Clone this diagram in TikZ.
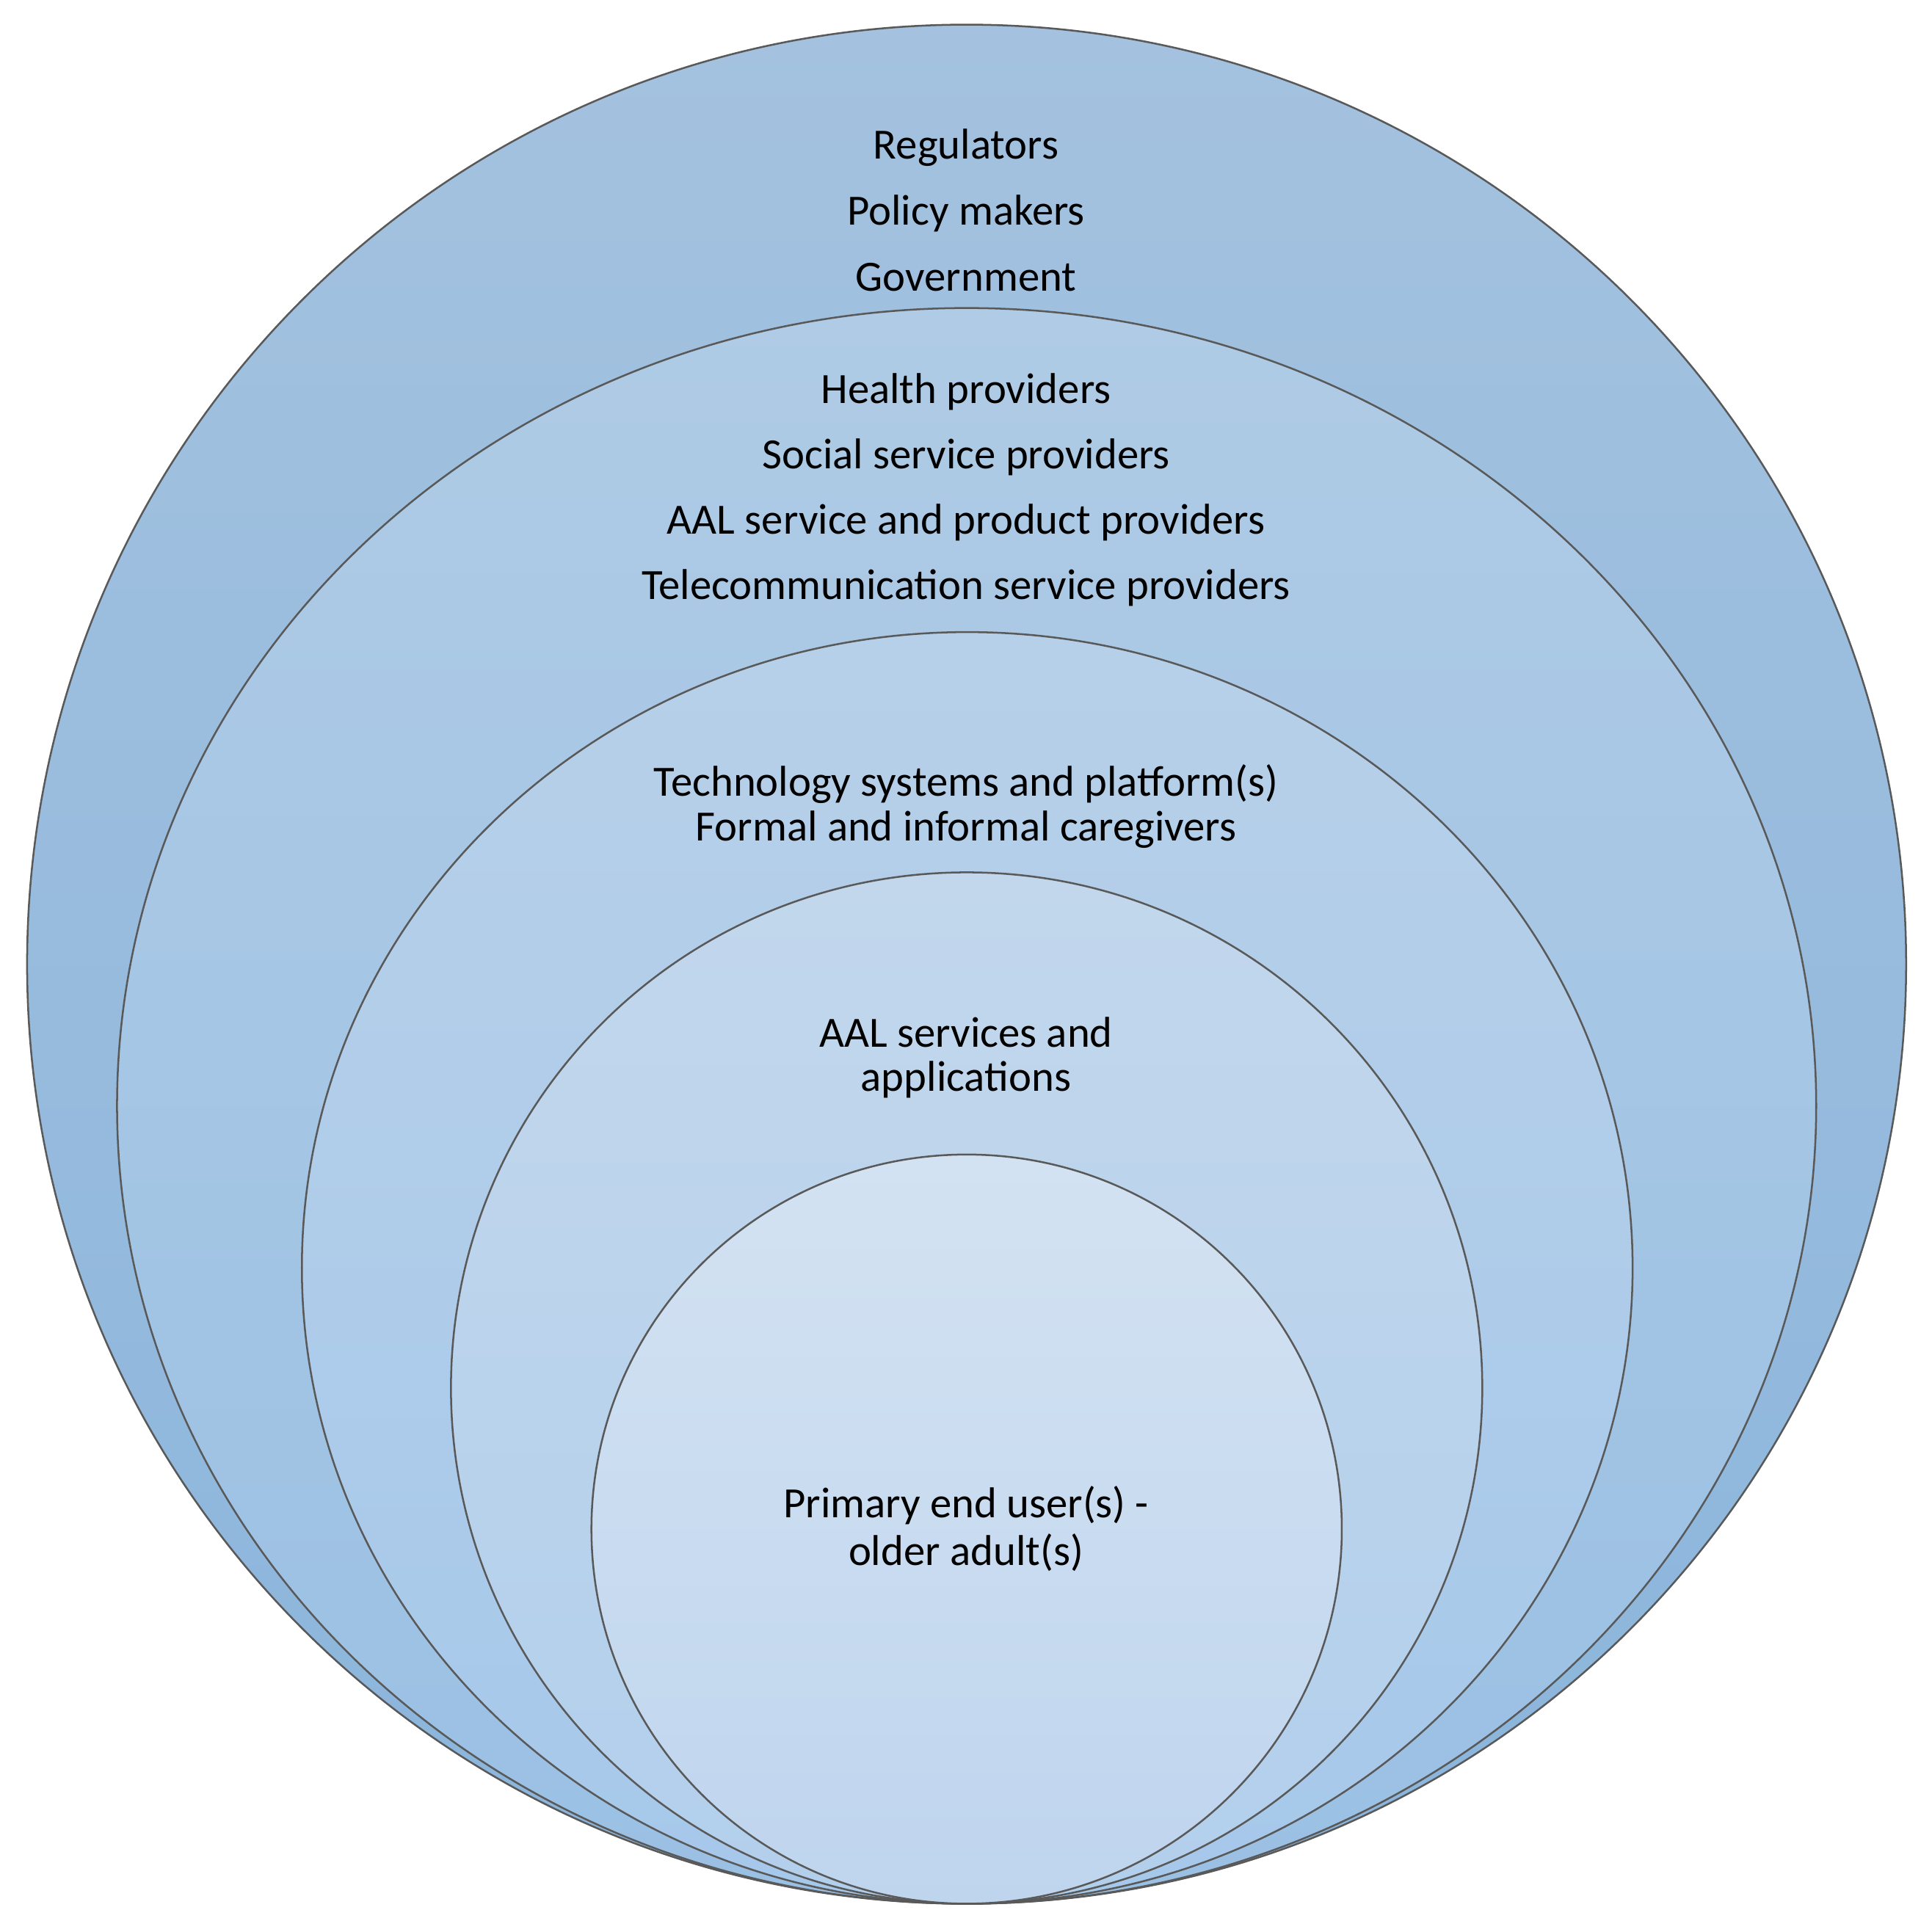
\documentclass[tikz,border=0pt]{standalone}
\usepackage{fontspec}
\setmainfont{Carlito}
\begin{document}
\begin{tikzpicture}[x=1pt,y=-1pt,
 ring/.style={draw=black!65,line width=1.5pt},
 lab/.style={font=\fontsize{35}{42}\selectfont,anchor=center,inner sep=0pt}]
\useasboundingbox (0,0) rectangle (1568,1568);
\definecolor{a1}{HTML}{A4C2DF}\definecolor{a2}{HTML}{8BB5DC}
\definecolor{b1}{HTML}{AFCBE5}\definecolor{b2}{HTML}{9AC0E4}
\definecolor{c1}{HTML}{B7D0E9}\definecolor{c2}{HTML}{A6C8EA}
\definecolor{d1}{HTML}{C2D7EC}\definecolor{d2}{HTML}{B2CFEC}
\definecolor{e1}{HTML}{D3E2F2}\definecolor{e2}{HTML}{BFD5EE}
\path[ring,top color=a1,bottom color=a2] (784.5,782.5) ellipse [x radius=762.5,y radius=762.5];
\path[ring,top color=b1,bottom color=b2] (784.5,897.5) ellipse [x radius=689.5,y radius=647.5];
\path[ring,top color=c1,bottom color=c2] (785,1029) ellipse [x radius=540,y radius=516];
\path[ring,top color=d1,bottom color=d2] (784.5,1126.5) ellipse [x radius=418.5,y radius=418.5];
\path[ring,top color=e1,bottom color=e2] (784.5,1241) ellipse [x radius=304.5,y radius=304];
\node[lab] (r1) at (784,120) {Regulators};
\node[lab] (r2) at (784,173) {Policy makers};
\node[lab] (r3) at (784,225) {Government};
\node[lab] (h1) at (784,318) {Health providers};
\node[lab] (h2) at (784,371) {Social service providers};
\node[lab] (h3) at (784,424) {AAL service and product providers};
\node[lab] (h4) at (784,477) {Telecommunication service providers};
\node[lab] (t1) at (784,636) {Technology systems and platform(s)};
\node[lab] (t2) at (784,673) {Formal and informal caregivers};
\node[lab] (s1) at (784,838) {AAL services and};
\node[lab] (s2) at (784,876) {applications};
\node[lab] (p1) at (784,1222) {Primary end user(s) -};
\node[lab] (p2) at (784,1260) {older adult(s)};
\end{tikzpicture}
\end{document}
